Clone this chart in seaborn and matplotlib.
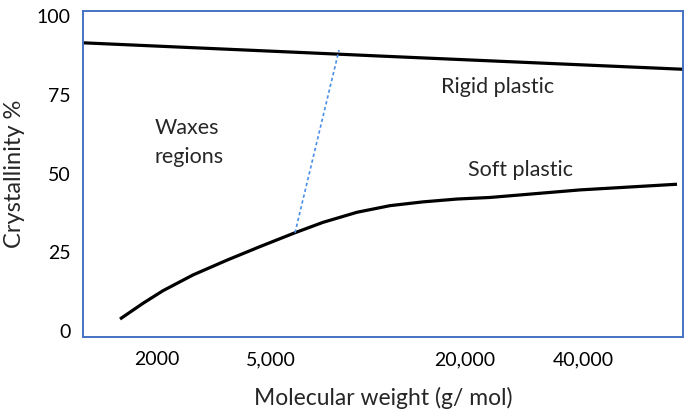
import matplotlib
matplotlib.use("Agg")
import matplotlib.pyplot as plt
import seaborn as sns
import pandas as pd

# ---- data (x = relative position along the molecular-weight axis) ----
rigid_x = [0, 227, 297, 600]
rigid_y = [91.5, 88.3, 87.3, 83.1]

soft_x = [37, 60, 80, 110, 144, 177, 212, 240, 274, 307, 340, 374, 407, 452, 497, 594]
soft_y = [3.8, 8.8, 12.8, 17.8, 22.5, 26.8, 31.2, 34.5, 37.7, 39.8, 41.0, 41.9, 42.4, 43.6, 44.8, 46.6]

boundary_x = [212, 256]
boundary_y = [31.2, 89.2]

x_tick_pos = [74, 188, 382, 500]
x_tick_labels = ["2000", "5,000", "20,000", "40,000"]
y_ticks = [0, 25, 50, 75, 100]

sns.set_theme(style="white")
plt.rcParams['font.family'] = ['Lato', 'DejaVu Sans']

fig = plt.figure(figsize=(6.85, 4.18), dpi=100)
ax = fig.add_axes([83/685, 1-337/418, 600/685, 326/418])

rigid = pd.DataFrame({"x": rigid_x, "y": rigid_y})
soft = pd.DataFrame({"x": soft_x, "y": soft_y})
bnd = pd.DataFrame({"x": boundary_x, "y": boundary_y})

sns.lineplot(data=rigid, x="x", y="y", ax=ax, color="black", linewidth=2.3, sort=False)
sns.lineplot(data=soft, x="x", y="y", ax=ax, color="black", linewidth=2.3, sort=False,
             solid_joinstyle="round", solid_capstyle="butt")
sns.lineplot(data=bnd, x="x", y="y", ax=ax, color="#4A8FE7", linewidth=1.2,
             sort=False, dashes=False, linestyle=(0, (2.0, 1.6)))

ax.set_xlim(0, 600)
ax.set_ylim(-1.9, 101.6)
ax.set_xticks(x_tick_pos)
ax.set_xticklabels(x_tick_labels)
ax.set_yticks(y_ticks)
ax.tick_params(axis="both", length=0, labelsize=14, colors="black")
ax.tick_params(axis="x", pad=10)
ax.tick_params(axis="y", pad=9)

for s in ax.spines.values():
    s.set_visible(True)
    s.set_color("#4472C4")
    s.set_linewidth(1.4)

ax.set_xlabel("Molecular weight (g/ mol)", fontsize=16.5, labelpad=14)
ax.set_ylabel("Crystallinity %", fontsize=17, labelpad=8)

ax.text(415, 77.5, "Rigid plastic", fontsize=15.5, ha="center", va="center")
ax.text(438, 51.0, "Soft plastic", fontsize=15.5, ha="center", va="center")
ax.text(72, 59.8, "Waxes\nregions", fontsize=15.5, ha="left", va="center", linespacing=1.55)

fig.savefig("out.png", dpi=100)
